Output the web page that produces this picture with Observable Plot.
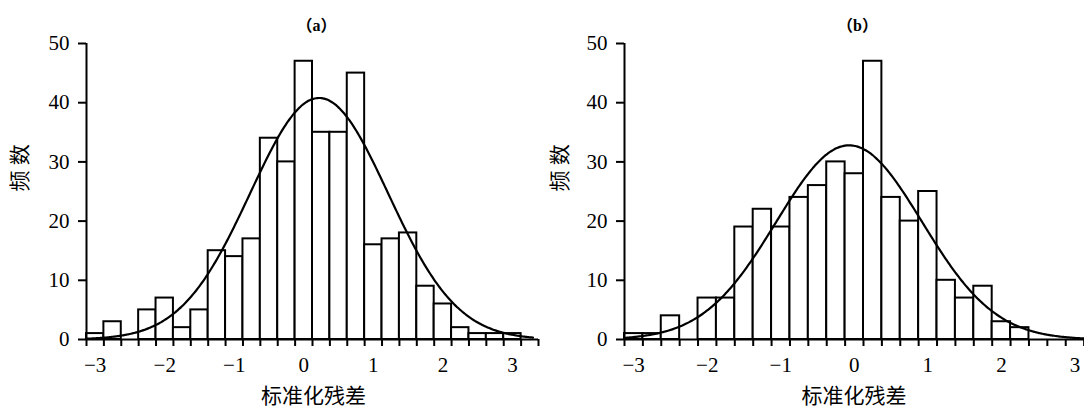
<!DOCTYPE html>
<html>
<head>
<meta charset="utf-8">
<script src="https://cdn.jsdelivr.net/npm/d3@7"></script>
<script src="https://cdn.jsdelivr.net/npm/@observablehq/plot@0.6"></script>
<style>
  html, body { margin: 0; padding: 0; background: #fff; overflow: hidden; }
  #wrap { position: relative; width: 1084px; height: 411px; overflow: hidden; }
  #wrap > div { position: absolute; top: 0; }
  #wrap svg { max-width: none; }
  #wrap svg text, #wrap svg tspan {
    font-family: "Liberation Serif", "Noto Sans CJK SC", serif !important;
  }
</style>
</head>
<body>
<div id="wrap">
  <div id="panel-a" style="left:0px; width:545px"></div>
  <div id="panel-b" style="left:540px; width:570px"></div>
</div>
<script>
// Histogram bins of standardized residuals (bin centres, width 0.25)
const binCenters = [-3, -2.75, -2.5, -2.25, -2, -1.75, -1.5, -1.25, -1, -0.75, -0.5, -0.25, 0,
                    0.25, 0.5, 0.75, 1, 1.25, 1.5, 1.75, 2, 2.25, 2.5, 2.75, 3, 3.25];
const binWidth = 0.25;

// Frequencies per bin
const countsA = [1, 3, 0, 5, 7, 2, 5, 15, 14, 17, 34, 30, 47,
                 35, 35, 45, 16, 17, 18, 9, 6, 2, 1, 1, 1, 0];
const countsB = [1, 1, 4, 0, 7, 7, 19, 22, 19, 24, 26, 30, 28,
                 47, 24, 20, 25, 10, 7, 9, 3, 2, 0, 0, 0, 0];

// Fitted normal curves: mean, standard deviation, peak height
const fitMeans = [0.22, -0.07];
const fitSds = [0.99, 0.99];
const fitPeaks = [40.8, 32.8];

const panelTitles = ["（a）", "（b）"];
const xLabel = "标准化残差";
const yLabel = "频 数";
const xTickValues = [-3, -2, -1, 0, 1, 2, 3];
const yTickValues = [0, 10, 20, 30, 40, 50];

const fontStack = "'Liberation Serif', 'Noto Sans CJK SC', serif";

function panel({counts, mean, sd, peak, title, width, marginLeft, marginRight, curveEnd, titleDx, xLabelDx, yLabelDx}) {
  const x0 = binCenters[0] - binWidth / 2;
  const x1 = binCenters[binCenters.length - 1] + binWidth / 2;
  const bins = binCenters.map((c, i) => ({lo: c - binWidth / 2, hi: c + binWidth / 2, n: counts[i]}));
  const edges = [x0, ...binCenters.map(c => c + binWidth / 2)];
  const curve = d3.range(x0, curveEnd + 1e-9, 0.02).map(v => ({
    v, f: peak * Math.exp(-((v - mean) ** 2) / (2 * sd * sd))
  }));
  return Plot.plot({
    width,
    height: 411,
    marginLeft,
    marginRight,
    marginTop: 43,
    marginBottom: 72,
    x: {domain: [x0, x1]},
    y: {domain: [0, 50]},
    style: {fontFamily: fontStack, fontSize: "21px", background: "#fff", color: "#000", maxWidth: "none"},
    marks: [
      Plot.rectY(bins, {x1: "lo", x2: "hi", y: "n", fill: "#fff", stroke: "#000", strokeWidth: 2, inset: 0}),
      Plot.line(curve, {x: "v", y: "f", stroke: "#000", strokeWidth: 2.2, curve: "basis"}),
      Plot.ruleY([0], {stroke: "#000", strokeWidth: 2}),
      Plot.ruleX([x0], {stroke: "#000", strokeWidth: 2}),
      // bin-edge ticks along the x axis
      Plot.axisX(edges, {tickSize: 7, tickFormat: () => "", label: null, strokeWidth: 2}),
      // integer labels
      Plot.axisX(xTickValues, {tickSize: 0, tickPadding: 18, label: null, fontSize: 21}),
      Plot.axisY(yTickValues, {tickSize: 8, tickPadding: 9, label: null, strokeWidth: 2, fontSize: 21}),
      Plot.text([title], {frameAnchor: "top", dy: -24, dx: titleDx, fontSize: 16, fontWeight: "bold"}),
      Plot.text([xLabel], {frameAnchor: "bottom", dy: 63, dx: xLabelDx, fontSize: 21}),
      Plot.text([yLabel], {frameAnchor: "left", dx: yLabelDx, rotate: -90, fontSize: 21})
    ]
  });
}

document.getElementById("panel-a").append(panel({
  counts: countsA, mean: fitMeans[0], sd: fitSds[0], peak: fitPeaks[0], title: panelTitles[0],
  width: 545, marginLeft: 86, marginRight: 7, curveEnd: 3.3, titleDx: 4, xLabelDx: 1, yLabelDx: -66
}));
document.getElementById("panel-b").append(panel({
  counts: countsB, mean: fitMeans[1], sd: fitSds[1], peak: fitPeaks[1], title: panelTitles[1],
  width: 570, marginLeft: 84, marginRight: 8, curveEnd: 3.375, titleDx: -6, xLabelDx: -9.5, yLabelDx: -64
}));
</script>
</body>
</html>
